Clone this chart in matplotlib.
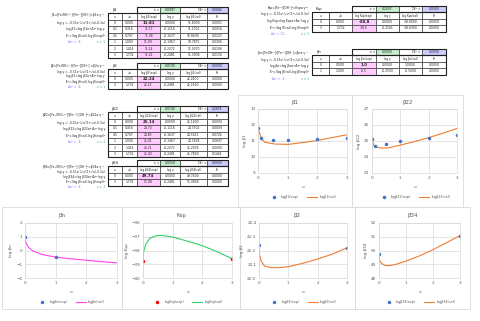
import matplotlib
matplotlib.use("Agg")
import matplotlib.pyplot as plt
from matplotlib.patches import Rectangle
from matplotlib.lines import Line2D

plt.rcParams['font.family'] = ['DejaVu Sans']

W, H = 480, 321

# ---------------- dane: tabele ----------------
u6 = [0, 0.1, 0.5, 1, 2, 3]
su6 = [0.000, 0.316, 0.707, 1.000, 1.414, 1.732]
u03 = [0, 3]
su03 = [0.000, 1.732]
u01 = [0, 1]
su01 = [0.000, 1.000]

b1_exp = [11.81, 11.17, 11.08, 11.09, 11.14, 11.21]
b1_lg = [0.0000, -0.1116, -0.1637, -0.1967, -0.2272, -0.2481]
b1_cal = [11.8000, 11.1302, 10.8690, 10.7872, 11.0370, 11.3906]
b1_e2 = [0.0001, 0.0016, 0.0123, 0.0306, 0.0106, 0.0130]

b2_exp = [22.24, 22.22]
b2_lg = [0.0000, -0.2481]
b2_cal = [22.2400, 22.2160]
b2_e2 = [0.0000, 0.0000]

b22_exp = [25.14, 24.70, 24.83, 25.01, 25.21, 25.40]
b22_lg = [0.0000, -0.1116, -0.1637, -0.1967, -0.2272, -0.2481]
b22_cal = [25.1400, 24.7302, 24.5611, 24.7458, 25.2074, 25.7800]
b22_e2 = [0.0000, 0.0009, 0.0724, 0.0697, 0.0000, 0.1444]

b34_exp = [49.74, 51.08]
b34_lg = [0.0000, -0.2481]
b34_cal = [49.7400, 51.0800]
b34_e2 = [0.0000, 0.0000]

ksp_exp = [-38.8, -38.6]
ksp_lg = [0.0000, -0.2161]
ksp_cal = [-38.8000, -38.6000]
ksp_e2 = [0.0000, 0.0000]

bn_exp = [1.0, -0.5]
bn_lg = [0.0000, -0.2500]
bn_cal = [1.0000, -0.5000]
bn_e2 = [0.0000, 0.0000]

# ---------------- dane: krzywe (cal) ----------------
b1_cu = [0, 0.11, 0.23, 0.57, 1.02, 1.59, 2.02, 2.6, 3.0]
b1_cv = [11.81, 11.17, 10.92, 10.81, 10.79, 10.92, 11.04, 11.25, 11.39]

b22_cu = [0, 0.06, 0.15, 0.33, 0.56, 1.01, 1.5, 2.0, 2.56, 3.0]
b22_cv = [25.15, 24.73, 24.63, 24.56, 24.56, 24.75, 24.96, 25.21, 25.52, 25.78]

bn_cu = [0, 0.03, 0.11, 0.27, 0.55, 1.0, 1.47, 2.0, 2.5, 3.0]
bn_cv = [1.0, 0.55, 0.24, -0.05, -0.29, -0.48, -0.6, -0.71, -0.81, -0.9]

ksp_cu = [0, 0.02, 0.09, 0.23, 0.46, 0.63, 1.0, 1.48, 2.0, 2.5, 3.0]
ksp_cv = [-38.8, -38.09, -37.55, -37.11, -36.92, -36.9, -37.02, -37.31, -37.65, -38.09, -38.6]

b2_cu = [0, 0.02, 0.08, 0.19, 0.42, 0.65, 1.0, 1.5, 2.0, 2.52, 3.0]
b2_cv = [22.24, 22.167, 22.119, 22.087, 22.075, 22.075, 22.082, 22.107, 22.138, 22.175, 22.22]

b34_cu = [0, 0.02, 0.09, 0.21, 0.4, 0.64, 1.02, 1.51, 2.0, 2.5, 3.0]
b34_cv = [49.74, 49.31, 49.07, 48.92, 48.9, 49.0, 49.24, 49.62, 50.06, 50.57, 51.08]

fig = plt.figure(figsize=(4.8, 3.21), dpi=100)


def box(x0, y0, x1, y1, fc='white', ec='#404040', lw=0.5, z=1):
    fig.patches.append(Rectangle((x0 / W, 1 - y1 / H), (x1 - x0) / W, (y1 - y0) / H,
                                 transform=fig.transFigure, fc=fc, ec=ec, lw=lw, zorder=z))


def txt(x, y, s, size=2.2, ha='center', color='#222222', **kw):
    fig.text(x / W, 1 - y / H, s, fontsize=size, ha=ha, va='center', color=color, **kw)


def tabela(xe, yt, rh, nazwa, heads, u, su, exp, lg, cal, e2, kappa, fmt_exp="{:.2f}"):
    # wiersz z kappa i suma E^2
    txt(xe[0] + 7, yt + rh / 2, nazwa, size=2.6)
    box(xe[2], yt, xe[3], yt + rh)
    txt(xe[3] - 1, yt + rh / 2, "κ =", ha='right')
    box(xe[3], yt, xe[4], yt + rh, fc='#c6efce')
    txt((xe[3] + xe[4]) / 2, yt + rh / 2, kappa)
    box(xe[4], yt, xe[5], yt + rh)
    txt(xe[5] - 1, yt + rh / 2, "ΣE² =", ha='right')
    box(xe[5], yt, xe[6], yt + rh, fc='#ccccff')
    txt((xe[5] + xe[6]) / 2, yt + rh / 2, "{:.4f}".format(sum(e2)))
    # naglowki
    y = yt + rh
    for i, h in enumerate(heads):
        box(xe[i], y, xe[i + 1], y + rh)
        txt((xe[i] + xe[i + 1]) / 2, y + rh / 2, h, size=2.0)
    # dane
    for r in range(len(u)):
        y = yt + rh * (2 + r)
        wart = [str(u[r]), "{:.3f}".format(su[r]), fmt_exp.format(exp[r]),
                "{:.4f}".format(lg[r]), "{:.4f}".format(cal[r]), "{:.4f}".format(e2[r])]
        for i, w in enumerate(wart):
            fc = '#ffccff' if i == 2 else 'white'
            box(xe[i], y, xe[i + 1], y + rh, fc=fc)
            if i == 2 and r == 0:
                txt((xe[i] + xe[i + 1]) / 2, y + rh / 2, w, size=2.8, weight='bold')
            else:
                txt((xe[i] + xe[i + 1]) / 2, y + rh / 2, w)
    # gruba ramka
    box(xe[0], yt + rh, xe[6], yt + rh * (2 + len(u)), fc='none', ec='#202020', lw=0.8, z=2)
    box(xe[2], yt, xe[6], yt + rh, fc='none', ec='#202020', lw=0.8, z=2)


def opis(xr, ys, linie, fiolet, ziel):
    for y, s in zip(ys[:4], linie):
        txt(xr, y, s, ha='right', size=2.2)
    txt(xr - 24, ys[4], fiolet, ha='right', size=2.2, color='#9966ff')
    txt(xr, ys[4], ziel, ha='right', size=2.2, color='#33aa55')


def naglowki(n):
    return ["u", "√u", "log %s(exp)" % n, "log γ", "log %s(cal)" % n, "E²"]


xl = [108, 122, 137, 160, 180, 207, 228]
xr_ = [312, 329, 352, 376, 399, 422, 446]
rh = 6.4

tabela(xl, 7, rh, "β1", naglowki("β1"), u6, su6, b1_exp, b1_lg, b1_cal, b1_e2, "0.0997")
opis(105, [15, 23, 29, 36, 42],
     ["β1=[Fe(OH)²⁺]/[Fe³⁺][OH⁻]=β1a·γ⁻⁶",
      "log γ = -0.51z²(√u/(1+√u)-0.3u)",
      "log β1=log β1a+Δz²·log γ",
      "E²=(log β(cal)-log β(exp))²"],
     "Δz² = -6,", "z = 1")

tabela(xl, 63, rh, "β2", naglowki("β2"), u03, su03, b2_exp, b2_lg, b2_cal, b2_e2, "0.0190")
opis(105, [66, 71.5, 76.5, 81.5, 87],
     ["β2=[Fe(OH)₂⁺]/[Fe³⁺][OH⁻]²=β2a·γ⁻⁸",
      "log γ = -0.51z²(√u/(1+√u)-0.3u)",
      "log β2=log β2a+Δz²·log γ",
      "E²=(log β(cal)-log β(exp))²"],
     "Δz² = -8,", "z = 1")

tabela(xl, 106, rh, "β22", naglowki("β22"), u6, su6, b22_exp, b22_lg, b22_cal, b22_e2, "0.0190")
opis(105, [115, 123, 129, 136, 142],
     ["β22=[Fe₂(OH)₂⁴⁺]/[Fe³⁺]²[OH⁻]²=β22a·γ⁻⁶",
      "log γ = -0.51z²(√u/(1+√u)-0.3u)",
      "log β22=log β22a+Δz²·log γ",
      "E²=(log β(cal)-log β(exp))²"],
     "Δz² = -6,", "z = 1")

tabela(xl, 160, rh, "β34", naglowki("β34"), u03, su03, b34_exp, b34_lg, b34_cal, b34_e2, "0.0558")
opis(105, [167, 172, 177, 182, 187],
     ["β34=[Fe₃(OH)₄⁵⁺]/[Fe³⁺]³[OH⁻]⁴=β34a·γ⁻⁶",
      "log γ = -0.51z²(√u/(1+√u)-0.3u)",
      "log β34=log β34a+Δz²·log γ",
      "E²=(log β(cal)-log β(exp))²"],
     "Δz² = -6,", "z = 1")

tabela(xr_, 6, rh, "Ksp", naglowki("Ksp"), u03, su03, ksp_exp, ksp_lg, ksp_cal, ksp_e2, "0.2007",
       fmt_exp="{:.1f}")
opis(309, [8, 14.5, 21, 28, 34],
     ["Ksp=[Fe³⁺][OH⁻]³=Kspa·γ¹²",
      "log γ = -0.51z²(√u/(1+√u)-0.3u)",
      "log Ksp=log Kspa+Δz²·log γ",
      "E²=(log K(cal)-log K(exp))²"],
     "Δz² = 12,", "z = 1")

tabela(xr_, 49, rh, "βn", naglowki("βn"), u01, su01, bn_exp, bn_lg, bn_cal, bn_e2, "0.0000",
       fmt_exp="{:.1f}")
opis(309, [53, 59.5, 66, 72.5, 79],
     ["βn=[FeOH²⁺]/[Fe³⁺][OH⁻]=βna·γ⁻⁶",
      "log γ = -0.51z²(√u/(1+√u)-0.3u)",
      "log βn=log βna+Δz²·log γ",
      "E²=(log β(cal)-log β(exp))²"],
     "Δz² = -6,", "z = 1")


# ---------------- wykresy ----------------
def wykres(frame, area, title, nazwa, yt, u_p, y_p, u_c, y_c, kol_p, kol_l):
    x0, y0, x1, y1 = frame
    box(x0, y0, x1, y1, fc='white', ec='#d9d9d9', lw=0.6, z=-1)
    a0, b0, a1, b1 = area
    ax = fig.add_axes([a0 / W, 1 - b1 / H, (a1 - a0) / W, (b1 - b0) / H])
    ax.plot(u_c, y_c, color=kol_l, lw=0.8)
    ax.plot(u_p, y_p, 'o', ms=1.5, color=kol_p)
    ax.set_xlim(0, 3)
    ax.set_ylim(yt[0], yt[-1])
    ax.set_xticks([0, 1, 2, 3])
    ax.set_yticks(yt)
    ax.grid(color='#d9d9d9', lw=0.5)
    for s in ax.spines.values():
        s.set_color('#d9d9d9')
        s.set_linewidth(0.5)
    ax.tick_params(length=0, labelsize=3, colors='#595959', pad=2)
    ax.set_ylabel("log " + nazwa, fontsize=3, color='#595959', labelpad=2)
    txt((x0 + x1) / 2, y0 + 8, title, size=4, color='#595959')
    txt((a0 + a1) / 2, b1 + 14, "u", size=3, color='#595959')
    h_p = Line2D([], [], marker='o', ms=1.5, lw=0, color=kol_p)
    h_l = Line2D([], [], lw=0.8, color=kol_l)
    fig.legend(handles=[h_p, h_l], labels=["log%s(exp)" % nazwa, "log%s(cal)" % nazwa],
               loc='center', bbox_to_anchor=((a0 + a1) / 2 / W, 1 - (b1 + 24) / H),
               ncol=2, frameon=False, fontsize=2.4, handlelength=3, columnspacing=2.5,
               handletextpad=0.6, labelcolor='#595959')


blue = '#4472c4'
orange = '#ed7d31'

wykres((238, 95, 352, 207), (258, 109, 347, 173), "β1", "β1", [9, 10, 11, 12, 13],
       u6, b1_exp, b1_cu, b1_cv, blue, orange)
wykres((352, 95, 463, 207), (372, 109, 457, 173), "β22", "β22", [23, 24, 25, 26, 27],
       u6, b22_exp, b22_cu, b22_cv, blue, orange)
wykres((2, 207, 122, 309), (25, 223, 117, 278), "βn", "βn", [-2, -1, 0, 1, 2],
       u01, bn_exp, bn_cu, bn_cv, blue, '#ff44ee')
wykres((122, 207, 240, 309), (143, 223, 232, 278), "Ksp", "Ksp", [-40, -39, -38, -37, -36],
       u03, ksp_exp, ksp_cu, ksp_cv, '#ff0000', '#33cc66')
wykres((240, 207, 355, 309), (259, 223, 347, 278), "β2", "β2", [22.0, 22.1, 22.2, 22.3, 22.4],
       u03, b2_exp, b2_cu, b2_cv, blue, orange)
wykres((355, 207, 470, 309), (379, 223, 460, 278), "β34", "β34", [48, 49, 50, 51, 52],
       u03, b34_exp, b34_cu, b34_cv, blue, orange)

fig.savefig("out.png", dpi=100)
